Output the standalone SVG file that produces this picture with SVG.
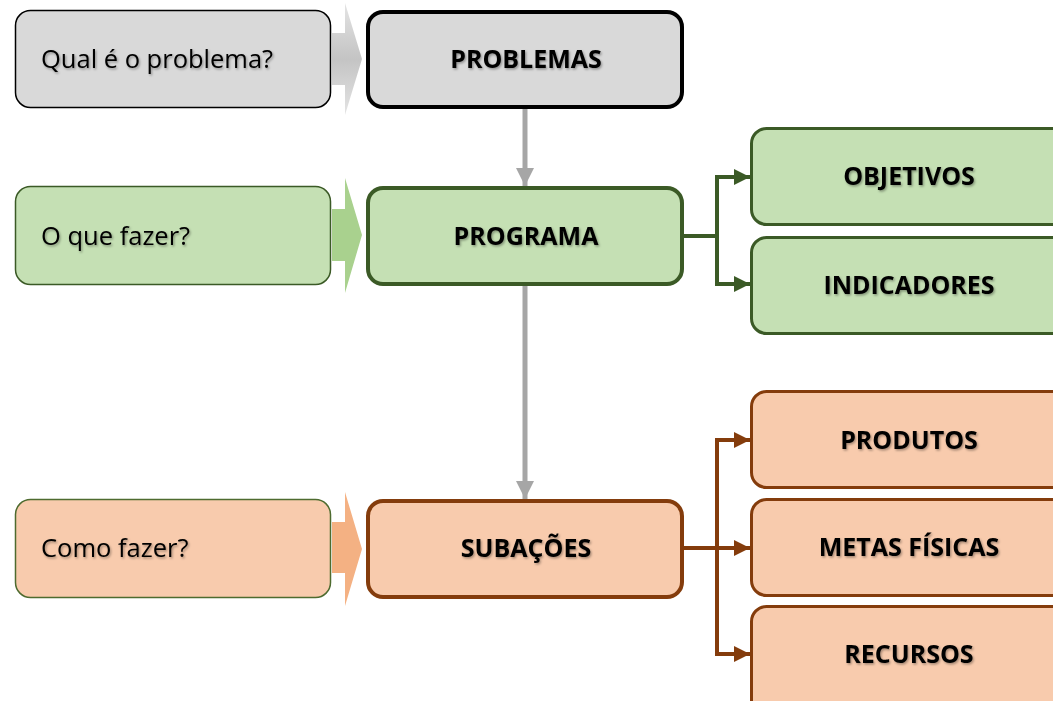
<svg xmlns="http://www.w3.org/2000/svg" width="1053" height="701" viewBox="0 0 1053 701">
<style>
.lbl{font-family:"Open Sans","Liberation Sans",Arial,sans-serif;font-size:25.5px;fill:#000;filter:url(#sh)}
.ttl{font-family:"Open Sans","Liberation Sans",Arial,sans-serif;font-size:25px;font-weight:bold;fill:#000;text-anchor:middle;filter:url(#sh)}
.gray{fill:#d9d9d9}
.grn{fill:#c5e0b4}
.org{fill:#f8cbad}
.gc{fill:none;stroke:#3b5a26;stroke-width:4}
.oc{fill:none;stroke:#843c0c;stroke-width:4}
.vc{fill:none;stroke:#a6a6a6;stroke-width:5}
</style>
<defs>
<filter id="sh" x="-10%" y="-30%" width="120%" height="160%">
<feDropShadow dx="1.2" dy="1.5" stdDeviation="0.8" flood-color="#000" flood-opacity="0.35"/>
</filter>
<marker id="ag" markerWidth="18" markerHeight="18" refX="18" refY="9" orient="auto" markerUnits="userSpaceOnUse" viewBox="0 0 18 18"><path d="M0,0 L18,9 L0,18 Z" fill="#a6a6a6"/></marker>
<marker id="mg" markerWidth="16" markerHeight="16" refX="16" refY="8" orient="auto" markerUnits="userSpaceOnUse" viewBox="0 0 16 16"><path d="M0,0 L16,8 L0,16 Z" fill="#3b5a26"/></marker>
<marker id="mo" markerWidth="16" markerHeight="16" refX="16" refY="8" orient="auto" markerUnits="userSpaceOnUse" viewBox="0 0 16 16"><path d="M0,0 L16,8 L0,16 Z" fill="#843c0c"/></marker>
<linearGradient id="gg" x1="0" y1="0" x2="0" y2="1"><stop offset="0" stop-color="#e4e4e4"/><stop offset="0.5" stop-color="#c4c4c4"/><stop offset="1" stop-color="#e4e4e4"/></linearGradient>
</defs>

<g id="connectors">
<line class="vc" x1="525" y1="108" x2="525" y2="186" marker-end="url(#ag)"/>
<line class="vc" x1="525" y1="286" x2="525" y2="499" marker-end="url(#ag)"/>
<path class="gc" d="M684,236 H717"/>
<path class="gc" d="M717,236 V177 H750" marker-end="url(#mg)"/>
<path class="gc" d="M717,236 V284 H750" marker-end="url(#mg)"/>
<path class="oc" d="M684,548 H750" marker-end="url(#mo)"/>
<path class="oc" d="M717,548 V440 H750" marker-end="url(#mo)"/>
<path class="oc" d="M717,548 V654 H750" marker-end="url(#mo)"/>
</g>

<g id="arrow-q"><path d="M332,33 H345 V3 L362,59 L345,115 V85 H332 Z" fill="url(#gg)"/></g>
<g id="arrow-o"><path d="M332,209 H345 V178 L362,235 L345,293 V261 H332 Z" fill="#a9d18e"/></g>
<g id="arrow-c"><path d="M332,522 H345 V492 L362,549 L345,606 V573 H332 Z" fill="#f4b183"/></g>

<g id="q-problema">
<rect class="gray" x="15.5" y="10.5" width="315" height="97" rx="15" stroke="#000" stroke-width="1.5"/>
<text class="lbl" x="41" y="68">Qual é o problema?</text>
</g>
<g id="q-fazer">
<rect class="grn" x="15.5" y="186.5" width="315" height="98" rx="15" stroke="#3b5a26" stroke-width="1.5"/>
<text class="lbl" x="41" y="245">O que fazer?</text>
</g>
<g id="q-como">
<rect class="org" x="15.5" y="499.5" width="315" height="98" rx="15" stroke="#4e6b2f" stroke-width="1.5"/>
<text class="lbl" x="41" y="557">Como fazer?</text>
</g>

<g id="problemas">
<rect class="gray" x="368" y="12" width="314" height="95" rx="15" stroke="#000" stroke-width="4"/>
<text class="ttl" x="526" y="68">PROBLEMAS</text>
</g>
<g id="programa">
<rect class="grn" x="368" y="188" width="314" height="96" rx="15" stroke="#3b5a26" stroke-width="4"/>
<text class="ttl" x="526" y="245">PROGRAMA</text>
</g>
<g id="subacoes">
<rect class="org" x="368" y="501" width="314" height="96" rx="15" stroke="#843c0c" stroke-width="4"/>
<text class="ttl" x="526" y="557">SUBAÇÕES</text>
</g>

<g id="objetivos">
<rect class="grn" x="751.5" y="128.5" width="330" height="96" rx="15" stroke="#3b5a26" stroke-width="3"/>
<text class="ttl" x="909" y="185">OBJETIVOS</text>
</g>
<g id="indicadores">
<rect class="grn" x="751.5" y="237.5" width="330" height="96" rx="15" stroke="#3b5a26" stroke-width="3"/>
<text class="ttl" x="909" y="294">INDICADORES</text>
</g>
<g id="produtos">
<rect class="org" x="751.5" y="391.5" width="330" height="96" rx="15" stroke="#843c0c" stroke-width="3"/>
<text class="ttl" x="909" y="449">PRODUTOS</text>
</g>
<g id="metas">
<rect class="org" x="751.5" y="499.5" width="330" height="96" rx="15" stroke="#843c0c" stroke-width="3"/>
<text class="ttl" x="909" y="556">METAS FÍSICAS</text>
</g>
<g id="recursos">
<rect class="org" x="751.5" y="606.5" width="330" height="110" rx="15" stroke="#843c0c" stroke-width="3"/>
<text class="ttl" x="909" y="663">RECURSOS</text>
</g>
</svg>
